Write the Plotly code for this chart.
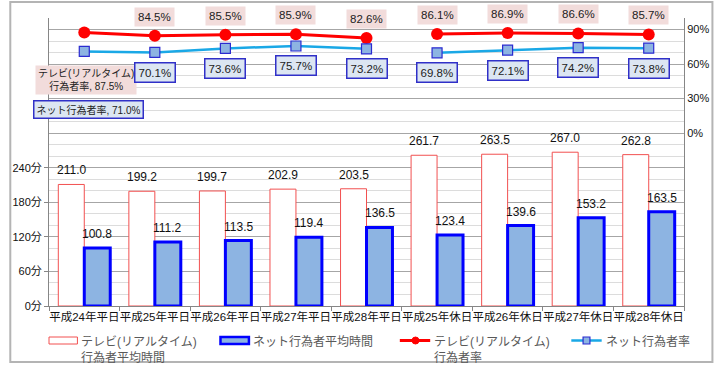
import plotly.graph_objects as go

categories = ["平成24年平日", "平成25年平日", "平成26年平日", "平成27年平日", "平成28年平日",
              "平成25年休日", "平成26年休日", "平成27年休日", "平成28年休日"]
tv_minutes = [211.0, 199.2, 199.7, 202.9, 203.5, 261.7, 263.5, 267.0, 262.8]
net_minutes = [100.8, 111.2, 113.5, 119.4, 136.5, 123.4, 139.6, 153.2, 163.5]
tv_rate = [87.5, 84.5, 85.5, 85.9, 82.6, 86.1, 86.9, 86.6, 85.7]
net_rate = [71.0, 70.1, 73.6, 75.7, 73.2, 69.8, 72.1, 74.2, 73.8]
left_ticks = [0, 60, 120, 180, 240]
right_ticks = [0, 30, 60, 90]
series_names = ["テレビ(リアルタイム)<br>行為者平均時間", "ネット行為者平均時間",
                "テレビ(リアルタイム)<br>行為者率", "ネット行為者率"]
split = 5  # line break between weekday and holiday groups

FONT = "Liberation Sans, Noto Sans CJK JP, sans-serif"
RED = "#ff0000"
BAR_RED = "#f25050"
CYAN = "#1aa8e6"
BLUE_FILL = "#8db4e2"
BLUE_EDGE = "#0000ff"
MARK_EDGE = "#2b2bd0"

W, H = 721, 368
L, R, T, B = 41, 689, 18, 306
PW, PH = R - L, B - T


def px(x):
    return (x - L) / PW


def py(y):
    return (B - y) / PH


fig = go.Figure()

fig.add_trace(go.Bar(x=categories, y=tv_minutes, name=series_names[0],
                     marker=dict(color="white", line=dict(color=BAR_RED, width=1)),
                     showlegend=False))
fig.add_trace(go.Bar(x=categories, y=net_minutes, name=series_names[1],
                     marker=dict(color=BLUE_FILL, line=dict(color=BLUE_EDGE, width=3)),
                     showlegend=False))

for seg in (slice(0, split), slice(split, None)):
    fig.add_trace(go.Scatter(x=categories[seg], y=tv_rate[seg], yaxis="y2", mode="lines+markers",
                             name=series_names[2], showlegend=False,
                             line=dict(color=RED, width=3),
                             marker=dict(symbol="circle", size=12, color=RED)))
    fig.add_trace(go.Scatter(x=categories[seg], y=net_rate[seg], yaxis="y2", mode="lines+markers",
                             name=series_names[3], showlegend=False,
                             line=dict(color=CYAN, width=2.5),
                             marker=dict(symbol="square", size=10, color=BLUE_FILL,
                                         line=dict(color=MARK_EDGE, width=1.2))))

ann = []
# bar value labels
for c, v in zip(categories, tv_minutes):
    ann.append(dict(x=c, y=v, xref="x", yref="y", text=f"{v:.1f}", showarrow=False,
                    xshift=-13, yshift=14, font=dict(size=12, color="#111")))
for c, v in zip(categories, net_minutes):
    ann.append(dict(x=c, y=v, xref="x", yref="y", text=f"{v:.1f}", showarrow=False,
                    xshift=13, yshift=14, font=dict(size=12, color="#111")))

# rate labels
for i, (c, v) in enumerate(zip(categories, tv_rate)):
    if i == 0:
        ann.append(dict(x=c, y=v, xref="x", yref="y2",
                        text=f"テレビ(リアルタイム)<br>行為者率, {v:.1f}%", showarrow=False,
                        xshift=2, yshift=-48, bgcolor="#f2dcdb", borderpad=2,
                        font=dict(size=10, color="#222")))
    else:
        ann.append(dict(x=c, y=v, xref="x", yref="y2", text=f"{v:.1f}%", showarrow=False,
                        yshift=19, bgcolor="#f2dcdb", borderpad=3,
                        font=dict(size=11.5, color="#222")))
for i, (c, v) in enumerate(zip(categories, net_rate)):
    if i == 0:
        ann.append(dict(x=c, y=v, xref="x", yref="y2",
                        text=f"ネット行為者率, {v:.1f}%", showarrow=False,
                        xshift=4, yshift=-58, bgcolor="#dce6f2", bordercolor="#3030c8",
                        borderwidth=1.5, borderpad=2, font=dict(size=10, color="#222")))
    else:
        ann.append(dict(x=c, y=v, xref="x", yref="y2", text=f"{v:.1f}%", showarrow=False,
                        yshift=-20, bgcolor="#dce6f2", bordercolor="#3030c8",
                        borderwidth=1.5, borderpad=3, font=dict(size=11.5, color="#222")))

# custom legend
shapes = []
LY0, LY1, LYC = 337, 344, 340.5
shapes.append(dict(type="rect", xref="paper", yref="paper", x0=px(41), x1=px(70), y0=py(LY1), y1=py(LY0),
                   fillcolor="white", line=dict(color=BAR_RED, width=1)))
shapes.append(dict(type="rect", xref="paper", yref="paper", x0=px(216), x1=px(245), y0=py(LY1), y1=py(LY0),
                   fillcolor=BLUE_FILL, line=dict(color=BLUE_EDGE, width=2.5)))
shapes.append(dict(type="line", xref="paper", yref="paper", x0=px(399), x1=px(430), y0=py(LYC), y1=py(LYC),
                   line=dict(color=RED, width=3)))
shapes.append(dict(type="circle", xref="paper", yref="paper", x0=px(411.5), x1=px(418.5),
                   y0=py(LYC + 3.5), y1=py(LYC - 3.5), fillcolor=RED, line=dict(color=RED, width=1)))
shapes.append(dict(type="line", xref="paper", yref="paper", x0=px(574), x1=px(605), y0=py(LYC), y1=py(LYC),
                   line=dict(color=CYAN, width=2.5)))
shapes.append(dict(type="rect", xref="paper", yref="paper", x0=px(586), x1=px(593),
                   y0=py(LYC + 3.5), y1=py(LYC - 3.5), fillcolor=BLUE_FILL, line=dict(color=MARK_EDGE, width=1.2)))
for xt, name in zip([72, 247, 432, 607], series_names):
    ann.append(dict(x=px(xt), y=py(333), xref="paper", yref="paper", text=name, showarrow=False,
                    xanchor="left", yanchor="top", align="left",
                    font=dict(size=12, color="#595959")))

# outer frame
shapes.append(dict(type="rect", xref="paper", yref="paper", x0=px(1.5), x1=px(718), y0=py(362), y1=py(2),
                   line=dict(color="#b4b4b4", width=2), fillcolor="rgba(0,0,0,0)", layer="below"))

fig.update_layout(
    width=W, height=H,
    margin=dict(l=L, r=W - R, t=T, b=H - B),
    paper_bgcolor="white", plot_bgcolor="white",
    font=dict(family=FONT, size=12, color="#111"),
    barmode="group", bargap=0.264, bargroupgap=0,
    showlegend=False,
    xaxis=dict(type="category", showline=True, linecolor="#868686", linewidth=1,
               ticks="outside", tickson="boundaries", ticklen=4, tickcolor="#868686",
               tickangle=0, tickfont=dict(size=11.5, color="#111"), showgrid=False, zeroline=False,
               range=[-0.5, len(categories) - 0.5]),
    yaxis=dict(range=[0, 500], tickvals=left_ticks, ticktext=[f"{v}分" for v in left_ticks],
               showline=True, linecolor="#868686", linewidth=1, ticks="outside", ticklen=4,
               tickcolor="#868686", tickfont=dict(size=11, color="#111"),
               showgrid=True, gridcolor="#a6a6a6", gridwidth=1, zeroline=False,
               minor=dict(dtick=20, tick0=0, showgrid=True, gridcolor="#dcdcdc", gridwidth=1)),
    yaxis2=dict(range=[-150, 100], overlaying="y", side="right", tickvals=right_ticks,
                ticktext=[f"{v}%" for v in right_ticks], showline=True, linecolor="#868686",
                linewidth=1, ticks="", tickfont=dict(size=11, color="#111"),
                showgrid=True, gridcolor="#a6a6a6", gridwidth=1, zeroline=False),
    annotations=ann,
    shapes=shapes,
)

fig.write_html("out.html")
